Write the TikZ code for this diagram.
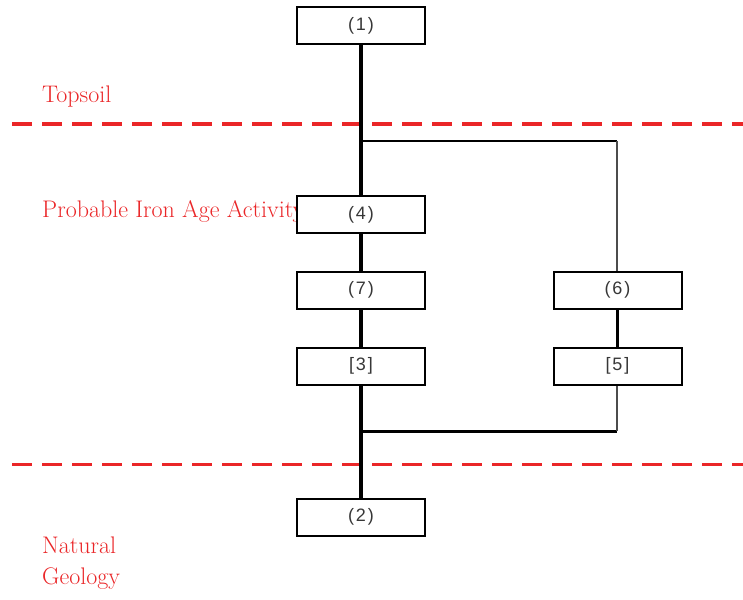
\documentclass[tikz,border=0pt]{standalone}
\usepackage{fontspec}
\newfontfamily\boxfont[LetterSpace=10]{Liberation Sans}
\definecolor{layerred}{RGB}{234,38,40}
\definecolor{boxtext}{RGB}{55,55,55}
\begin{document}
\begin{tikzpicture}[x=1pt,y=-1pt,
  ctx/.style={rectangle, fill=white, draw=black, line width=2pt, minimum width=128pt, minimum height=37pt, inner sep=0pt, font=\boxfont\fontsize{18}{20}\selectfont, text=boxtext},
  layer/.style={anchor=west, inner sep=0pt, text=layerred, font=\fontsize{24}{31}\selectfont, align=left},
  border/.style={draw=layerred, dash pattern=on 20pt off 10pt},
  link/.style={line width=3.5pt},
  thinlink/.style={line width=2pt},
  greylink/.style={line width=2.5pt, draw=black!70}]
\useasboundingbox (0,0) rectangle (743,599);
% layer labels
\node[layer] (topsoil) at (42,97) {Topsoil};
\node[layer] (iron) at (42,211) {Probable Iron Age Activity};
\node[layer] (geo) at (42,563) {Natural\\Geology};
% boundaries
\coordinate (b1l) at (12,124); \coordinate (b1r) at (743,124);
\coordinate (b2l) at (12,464); \coordinate (b2r) at (743,464);
\draw[border, line width=4pt] (b1l) -- (b1r);
\draw[border, line width=3pt] (b2l) -- (b2r);
% branch coordinates
\coordinate (split) at (361,141);
\coordinate (splitR) at (617,141);
\coordinate (join) at (361,431);
\coordinate (joinR) at (617,431);
% node positions
\path (361,26) coordinate (p1) (361,214.5) coordinate (p4) (361,290) coordinate (p7)
      (361,366) coordinate (p3) (617.5,290) coordinate (p6) (617.5,366) coordinate (p5)
      (361,517) coordinate (p2);
\node[ctx] (n1) at (p1) {(1)};
\node[ctx] (n4) at (p4) {(4)};
\node[ctx] (n7) at (p7) {(7)};
\node[ctx] (n3) at (p3) {[3]};
\node[ctx] (n6) at (p6) {(6)};
\node[ctx] (n5) at (p5) {[5]};
\node[ctx] (n2) at (p2) {(2)};
% connectors
\draw[link] (n1.south) -- (n4.north);
\draw[thinlink] (split) -- (splitR);
\draw[greylink] (splitR) -- (n6.north -| splitR);
\draw[link] (n4.south) -- (n7.north);
\draw[link] (n7.south) -- (n3.north);
\draw[link] (n6.south) -- (n5.north);
\draw[link] (n3.south) -- (join);
\draw[thinlink, line width=3pt] (join) -- (joinR);
\draw[greylink] (joinR) -- (n5.south -| joinR);
\draw[link] (join) -- (n2.north);
% boxes redrawn on top of connector ends and label text
\node[ctx] at (p1) {(1)};
\node[ctx] at (p4) {(4)};
\node[ctx] at (p7) {(7)};
\node[ctx] at (p3) {[3]};
\node[ctx] at (p6) {(6)};
\node[ctx] at (p5) {[5]};
\node[ctx] at (p2) {(2)};
\end{tikzpicture}
\end{document}
